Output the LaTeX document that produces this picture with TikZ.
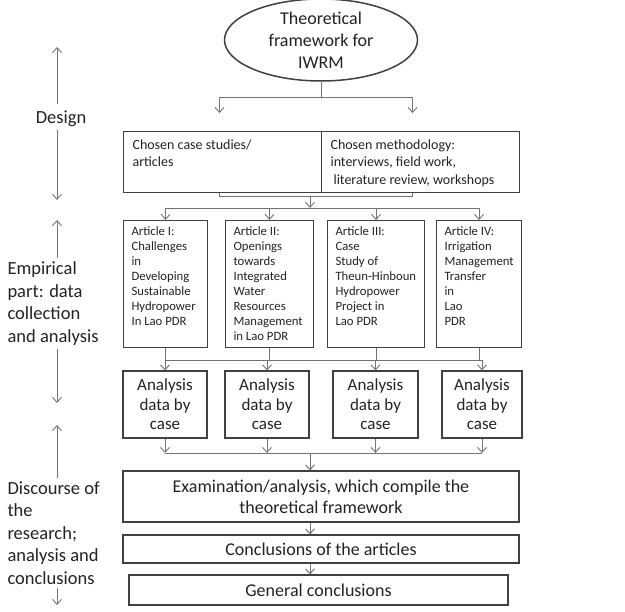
\documentclass[tikz,border=0pt]{standalone}
\usepackage{fontspec}
\setmainfont{Carlito}
\usetikzlibrary{shapes.geometric, arrows.meta, calc}
\definecolor{inkgray}{RGB}{35,35,35}
\definecolor{framegray}{RGB}{65,65,65}
\definecolor{linkgray}{RGB}{115,115,115}
\newcommand{\topbox}[3]{\parbox[t][#2][t]{#1}{\raggedright #3}}

\begin{document}
\begin{tikzpicture}[x=1pt, y=-1pt]
    \tikzstyle{theorybox} = [ellipse, draw=framegray, line width=1.5pt, minimum width=193pt, minimum height=82pt, inner sep=0pt, align=center, text=inkgray, font=\fontsize{18}{22}\selectfont]
    \tikzstyle{stagebox} = [rectangle, draw=framegray, line width=1.1pt, anchor=north west, inner xsep=9pt, inner ysep=8pt, text=inkgray, font=\fontsize{14}{17.5}\selectfont]
    \tikzstyle{articlebox} = [stagebox, inner xsep=8pt, inner ysep=6.5pt, font=\fontsize{12.7}{15}\selectfont]
    \tikzstyle{analysisbox} = [rectangle, draw=framegray, line width=1.1pt, minimum height=67pt, align=center, text=inkgray, font=\fontsize{17}{19.5}\selectfont]
    \tikzstyle{resultbox} = [rectangle, draw=framegray, line width=1.1pt, align=center, text=inkgray, font=\fontsize{18}{21}\selectfont]
    \tikzstyle{sidelabel} = [text=inkgray, font=\fontsize{18.5}{22.5}\selectfont]
    \tikzstyle{link} = [draw=linkgray, line width=0.9pt]
    \tikzstyle{arrowlink} = [link, -{Straight Barb[length=5pt, width=9pt]}]

    \useasboundingbox (0,0) rectangle (625,612);

    % main column
    \node[theorybox] (theory) at (321,40) {Theoretical\\framework for\\IWRM};

    \node[stagebox] (cases) at (123,131) {\topbox{180pt}{45pt}{Chosen case studies/\\articles}};
    \node[stagebox] (method) at (321,131) {\topbox{180pt}{45pt}{Chosen methodology:\\interviews, field work,\\\hspace*{3pt}literature review, workshops}};

    \node[articlebox] (art1) at (123,220) {\topbox{68pt}{114pt}{Article I:\\Challenges\\in\\Developing\\Sustainable\\Hydropower\\In Lao PDR}};
    \node[articlebox] (art2) at (225,220) {\topbox{72pt}{114pt}{Article II:\\Openings\\towards\\Integrated\\Water\\Resources\\Management\\in Lao PDR}};
    \node[articlebox] (art3) at (327,220) {\topbox{81pt}{114pt}{Article III:\\Case\\Study of\\\mbox{Theun-Hinboun}\\Hydropower\\Project in\\Lao PDR}};
    \node[articlebox] (art4) at (436,220) {\topbox{69pt}{114pt}{Article IV:\\Irrigation\\Management\\Transfer\\in\\Lao\\PDR}};

    \node[analysisbox, minimum width=84pt] (an1) at (165,404.5) {Analysis\\data by\\case};
    \node[analysisbox, minimum width=84pt] (an2) at (267,404.5) {Analysis\\data by\\case};
    \node[analysisbox, minimum width=85pt] (an3) at (375.5,404.5) {Analysis\\data by\\case};
    \node[analysisbox, minimum width=80pt] (an4) at (482,404.5) {Analysis\\data by\\case};

    \node[resultbox, minimum width=396pt, minimum height=51pt] (exam) at (321,496.5) {Examination/analysis, which compile the\\theoretical framework};
    \node[resultbox, minimum width=396pt, minimum height=28pt] (conc) at (321,549) {Conclusions of the articles};
    \node[resultbox, minimum width=379pt, minimum height=30pt] (general) at (318.5,590) {General conclusions};

    % side labels
    \node[sidelabel] (lblDesign) at (61,119) {Design};
    \node[sidelabel, anchor=west, align=left] (lblEmpirical) at (4,303.5) {Empirical\\part: data\\collection\\and analysis};
    \node[sidelabel, anchor=west, align=left] (lblDiscourse) at (4,533) {Discourse of\\the\\research;\\analysis and\\conclusions};

    \coordinate (mid) at (310,0);
    \coordinate (busA) at (0,208);
    \coordinate (busB) at (0,360);
    \coordinate (busC) at (0,453);
    \coordinate (designTop) at (57,47);
    \coordinate (designBot) at (57,200);
    \coordinate (empTop) at (57,220);
    \coordinate (empBot) at (57,403);
    \coordinate (discTop) at (57,425);
    \coordinate (discBot) at (57,605);

    % design
    \draw[link] (theory.south) -- ++(0,16) coordinate (split);
    \draw[arrowlink, shorten >=18pt] (split) -| ([xshift=-3pt]cases.north);
    \draw[arrowlink, shorten >=18pt] (split) -| ([xshift=-8pt]method.north);
    \draw[link] ([xshift=-3pt]cases.south) -- ++(0,3) -| ([xshift=-8pt]method.south);
    \draw[arrowlink] (mid |- cases.south) ++(0,3) -- (mid |- busA);

    % articles
    \draw[link] (art1.north |- busA) -- (art4.north |- busA);
    \foreach \a in {art1,art2,art3,art4}
        \draw[arrowlink] (\a.north |- busA) -- (\a.north);
    \foreach \a in {art1,art2,art3,art4}
        \draw[link] (\a.south) -- (\a.south |- busB);
    \draw[link] (an1.north |- busB) -- (an4.north |- busB);
    \foreach \a in {an1,an2,an3,an4}
        \draw[arrowlink] (\a.north |- busB) -- (\a.north);

    % discourse
    \foreach \a in {an1,an2,an3,an4}
        \draw[arrowlink] (\a.south) -- (\a.south |- busC);
    \draw[link] (an1.south |- busC) -- (an4.south |- busC);
    \draw[arrowlink] (mid |- busC) -- (mid |- exam.north);
    \draw[arrowlink] (mid |- exam.south) -- (mid |- conc.north);
    \draw[arrowlink] (mid |- conc.south) -- (mid |- general.north);

    % side arrows
    \draw[arrowlink, shorten <=4pt] (lblDesign.north -| designTop) -- (designTop);
    \draw[arrowlink] (lblDesign.south -| designBot) -- (designBot);
    \draw[arrowlink] (lblEmpirical.north -| empTop) -- (empTop);
    \draw[arrowlink] (lblEmpirical.south -| empBot) -- (empBot);
    \draw[arrowlink] (lblDiscourse.north -| discTop) -- (discTop);
    \draw[arrowlink] (lblDiscourse.south -| discBot) -- (discBot);
\end{tikzpicture}
\end{document}
